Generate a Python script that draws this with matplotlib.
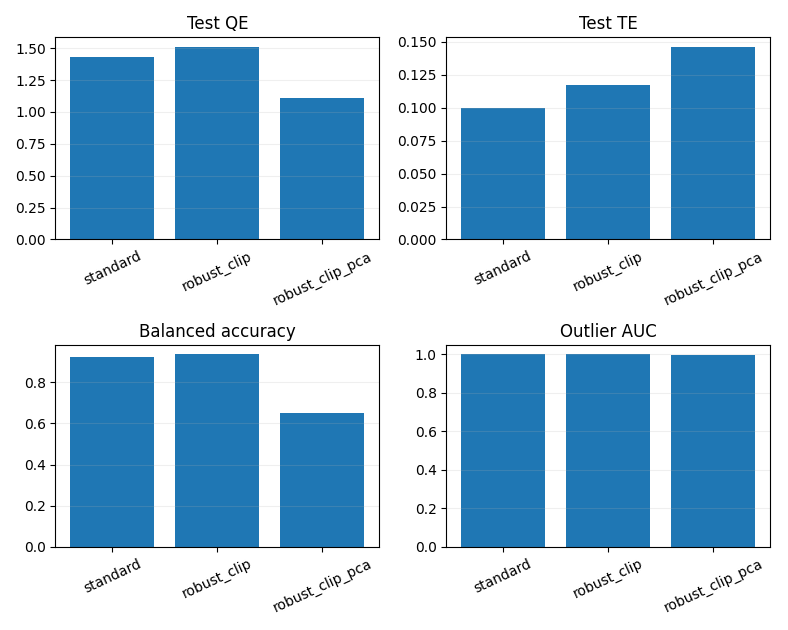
import matplotlib
matplotlib.use('Agg')
import matplotlib.pyplot as plt

methods = ['standard', 'robust_clip', 'robust_clip_pca']
titles = ['Test QE', 'Test TE', 'Balanced accuracy', 'Outlier AUC']
test_qe = [1.43, 1.51, 1.11]
test_te = [0.100, 0.117, 0.146]
bal_acc = [0.925, 0.935, 0.65]
outlier_auc = [1.0, 1.0, 0.997]

fig, axes = plt.subplots(2, 2, figsize=(7.88, 6.3), dpi=100)
for ax, title, vals in zip(axes.flat, titles, [test_qe, test_te, bal_acc, outlier_auc]):
    ax.bar(methods, vals, color='#1f77b4')
    ax.set_title(title)
    ax.grid(axis='y', alpha=0.2)
    ax.tick_params(axis='x', rotation=25)

plt.tight_layout()
plt.savefig('out.png')
